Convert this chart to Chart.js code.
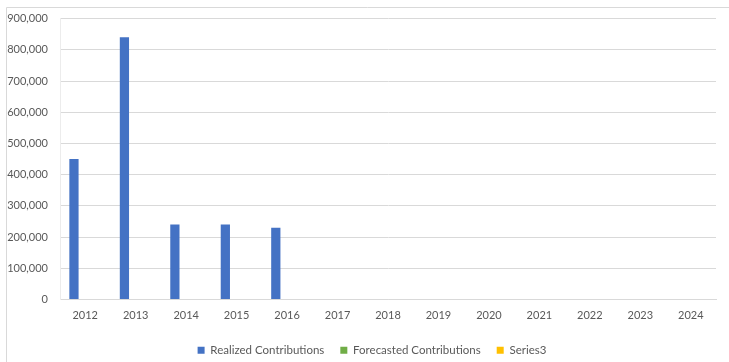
<!DOCTYPE html>
<html>
<head>
<meta charset="utf-8">
<script src="https://cdn.jsdelivr.net/npm/chart.js@4"></script>
<style>
  html, body { margin: 0; padding: 0; background: #fff; }
  #wrap { width: 729px; height: 362px; position: relative; }
</style>
</head>
<body>
<div id="wrap"><canvas id="chart" width="729" height="362"></canvas></div>
<script>
const years = ['2012','2013','2014','2015','2016','2017','2018','2019','2020','2021','2022','2023','2024'];
const realized = [450000, 840000, 240000, 240000, 230000, null, null, null, null, null, null, null, null];
const forecasted = [null, null, null, null, null, null, null, null, null, null, null, null, null];
const series3 = [null, null, null, null, null, null, null, null, null, null, null, null, null];
const yTicks = [0, 100000, 200000, 300000, 400000, 500000, 600000, 700000, 800000, 900000];

const textColor = '#595959';
const gridColor = '#d9d9d9';
const fontFamily = 'Lato, "Open Sans", sans-serif';

// thin frame along the top and left edges of the chart box
const framePlugin = {
  id: 'frame',
  beforeDraw(chart) {
    const ctx = chart.ctx;
    ctx.save();
    ctx.strokeStyle = '#d9d9d9';
    ctx.lineWidth = 1;
    ctx.beginPath();
    ctx.moveTo(6.5, 362);
    ctx.lineTo(6.5, 7.5);
    ctx.lineTo(729, 7.5);
    ctx.stroke();
    ctx.restore();
  }
};

// nudge the legend row to the right so it sits centred under the plot
const legendShift = {
  id: 'legendShift',
  afterLayout(chart) {
    const lg = chart.legend;
    if (lg) { lg.left += 14; lg.right += 14; }
  }
};

new Chart(document.getElementById('chart'), {
  type: 'bar',
  data: {
    labels: years,
    datasets: [
      { label: 'Realized Contributions', data: realized, backgroundColor: '#4472C4' },
      { label: 'Forecasted Contributions', data: forecasted, backgroundColor: '#70AD47' },
      { label: 'Series3', data: series3, backgroundColor: '#FFC000' }
    ]
  },
  options: {
    responsive: false,
    animation: false,
    datasets: { bar: { categoryPercentage: 0.67, barPercentage: 0.82 } },
    layout: { padding: { left: 0, right: 13, top: 17, bottom: -4 } },
    plugins: {
      tooltip: { enabled: false },
      legend: {
        position: 'bottom',
        labels: {
          color: textColor,
          boxWidth: 7,
          boxHeight: 7,
          padding: 16,
          font: { family: fontFamily, size: 11.5 }
        }
      }
    },
    scales: {
      x: {
        grid: { display: false, drawTicks: false },
        border: { color: gridColor },
        ticks: { color: textColor, font: { family: fontFamily, size: 11 }, padding: 9, maxRotation: 0 },
        afterFit(scale) { scale.height = 29; }
      },
      y: {
        min: 0,
        max: 900000,
        afterBuildTicks(scale) { scale.ticks = yTicks.map(v => ({ value: v })); },
        grid: { color: gridColor, drawTicks: false },
        border: { color: '#ececec' },
        ticks: {
          color: textColor,
          font: { family: fontFamily, size: 11 },
          padding: 12,
          callback: v => v.toLocaleString('en-US')
        },
        afterFit(scale) { scale.width = 60; }
      }
    }
  },
  plugins: [framePlugin, legendShift]
});
</script>
</body>
</html>
